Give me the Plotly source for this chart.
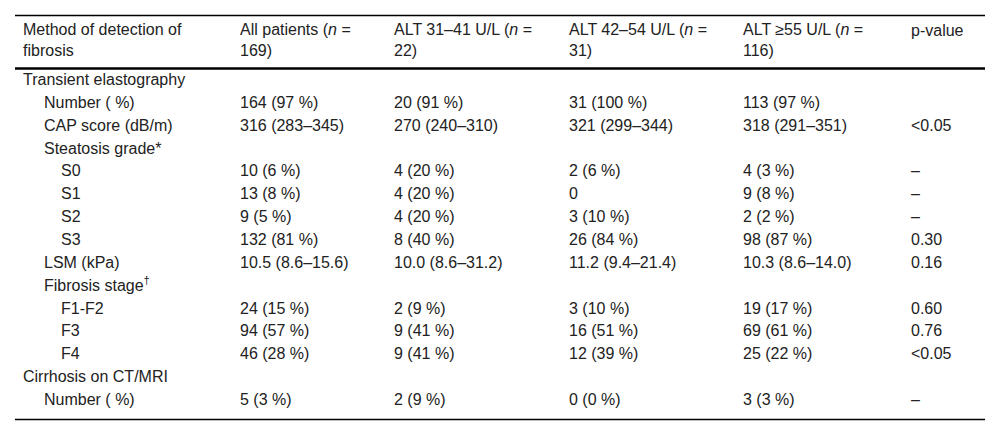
import plotly.graph_objects as go

# header row
headers = [
    "Method of detection of<br>fibrosis",
    "All patients (<i>n</i> =<br>169)",
    "ALT 31–41 U/L (<i>n</i> =<br>22)",
    "ALT 42–54 U/L (<i>n</i> =<br>31)",
    "ALT ≥55 U/L (<i>n</i> =<br>116)",
    "p-value",
]

# first column and its indent level
labels = [
    "Transient elastography", "Number ( %)", "CAP score (dB/m)", "Steatosis grade*",
    "S0", "S1", "S2", "S3", "LSM (kPa)", "Fibrosis stage<sup>†</sup>",
    "F1-F2", "F3", "F4", "Cirrhosis on CT/MRI", "Number ( %)",
]
indent = [0, 1, 1, 1, 2, 2, 2, 2, 1, 1, 2, 2, 2, 0, 1]

all_patients = ["", "164 (97 %)", "316 (283–345)", "", "10 (6 %)", "13 (8 %)", "9 (5 %)",
                "132 (81 %)", "10.5 (8.6–15.6)", "", "24 (15 %)", "94 (57 %)", "46 (28 %)",
                "", "5 (3 %)"]
alt_31_41 = ["", "20 (91 %)", "270 (240–310)", "", "4 (20 %)", "4 (20 %)", "4 (20 %)",
             "8 (40 %)", "10.0 (8.6–31.2)", "", "2 (9 %)", "9 (41 %)", "9 (41 %)",
             "", "2 (9 %)"]
alt_42_54 = ["", "31 (100 %)", "321 (299–344)", "", "2 (6 %)", "0", "3 (10 %)",
             "26 (84 %)", "11.2 (9.4–21.4)", "", "3 (10 %)", "16 (51 %)", "12 (39 %)",
             "", "0 (0 %)"]
alt_55 = ["", "113 (97 %)", "318 (291–351)", "", "4 (3 %)", "9 (8 %)", "2 (2 %)",
          "98 (87 %)", "10.3 (8.6–14.0)", "", "19 (17 %)", "69 (61 %)", "25 (22 %)",
          "", "3 (3 %)"]
p_values = ["", "", "&lt;0.05", "", "–", "–", "–", "0.30", "0.16", "", "0.60", "0.76",
            "&lt;0.05", "", "–"]

columns = [labels, all_patients, alt_31_41, alt_42_54, alt_55, p_values]

# layout (in pixels of a 1000x436 page)
W, H = 1000, 436
col_x = [23, 240, 394, 569, 743, 911]
indent_px = [0, 21, 38]
ROW0, ROW_H = 81, 22.86
TEXT = "#222222"
FONT = "Liberation Sans, Arial, sans-serif"


def row_of(py):
    # pixel y -> row units
    return (py - ROW0) / ROW_H


xs, ys, texts = [], [], []
for c, col in enumerate(columns):
    for r, txt in enumerate(col):
        if not txt:
            continue
        x = col_x[c] + (indent_px[indent[r]] if c == 0 else 0)
        xs.append(x)
        ys.append(r)
        texts.append(txt)

header_y = [row_of(41.5)] * 5 + [row_of(32)]

fig = go.Figure()
fig.add_trace(go.Scatter(
    x=xs, y=ys, text=texts, mode="text", textposition="middle right",
    textfont=dict(family=FONT, size=16, color=TEXT), hoverinfo="skip",
))
# header row, two lines each
fig.add_trace(go.Scatter(
    x=col_x, y=header_y, text=headers, mode="text", textposition="middle right",
    textfont=dict(family=FONT, size=16, color=TEXT), hoverinfo="skip",
))

# horizontal rules
for py, w in [(15.5, 1.3), (68.5, 2.5), (419.5, 1.5)]:
    fig.add_shape(type="line", xref="x", yref="y", layer="above",
                  x0=15, x1=985, y0=row_of(py), y1=row_of(py),
                  line=dict(color="black", width=w))

fig.update_xaxes(range=[0, W], visible=False, fixedrange=True)
fig.update_yaxes(range=[row_of(H), row_of(0)], visible=False, fixedrange=True)
fig.update_layout(
    width=W, height=H,
    margin=dict(l=0, r=0, t=0, b=0),
    paper_bgcolor="white",
    plot_bgcolor="white",
    showlegend=False,
    hovermode=False,
)

# page body has an 8px margin by default; drop it so the figure sits at 0,0
fig.write_html("out.html", config={"displayModeBar": False},
               post_script="document.body.style.margin = '0';")
